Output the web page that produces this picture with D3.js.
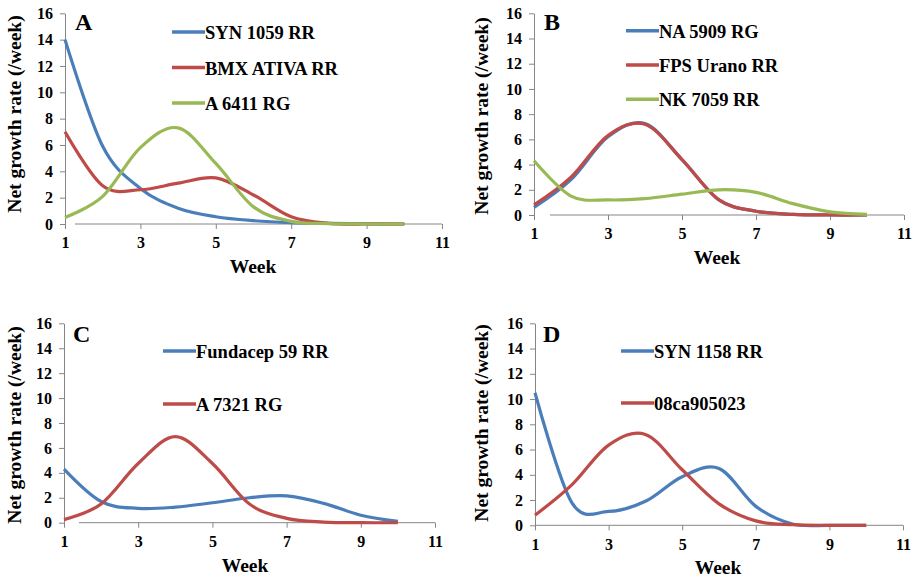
<!DOCTYPE html>
<html>
<head>
<meta charset="utf-8">
<script src="https://cdn.jsdelivr.net/npm/d3@7/dist/d3.min.js"></script>
<style>
    body { margin: 0; background: #fff; }
</style>
</head>
<body>
<div id="chart"></div>
<script>
// Data
const weeks = [1, 2, 3, 4, 5, 6, 7, 8, 9, 10];
const xTicks = [1, 3, 5, 7, 9, 11];
const yTicks = [0, 2, 4, 6, 8, 10, 12, 14, 16];
const panelLetters = ["A", "B", "C", "D"];

const namesA = ["SYN 1059 RR", "BMX ATIVA RR", "A 6411 RG"];
const syn1059 = [14, 5.9, 2.7, 1.2, 0.55, 0.25, 0.1, 0.05, 0.02, 0];
const bmxAtiva = [7, 2.9, 2.6, 3.1, 3.5, 2.2, 0.55, 0.05, 0, 0];
const a6411 = [0.5, 2.1, 5.8, 7.3, 4.6, 1.3, 0.2, 0.03, 0, 0];

const namesB = ["NA 5909 RG", "FPS Urano RR", "NK 7059 RR"];
const na5909 = [0.6, 2.8, 6.2, 7.25, 4.4, 1.2, 0.3, 0.05, 0, 0];
const fpsUrano = [0.8, 3.0, 6.3, 7.2, 4.4, 1.2, 0.3, 0.05, 0, 0];
const nk7059 = [4.3, 1.5, 1.2, 1.3, 1.65, 2.0, 1.8, 0.9, 0.25, 0.05];

const namesC = ["Fundacep 59 RR", "A 7321 RG"];
const fundacep59 = [4.3, 1.7, 1.15, 1.25, 1.6, 2.0, 2.15, 1.55, 0.6, 0.1];
const a7321 = [0.25, 1.5, 4.75, 6.9, 4.75, 1.5, 0.35, 0.05, 0, 0];

const namesD = ["SYN 1158 RR", "08ca905023"];
const syn1158 = [10.5, 1.8, 1.1, 1.9, 3.85, 4.5, 1.5, 0.1, 0, 0];
const ca905023 = [0.8, 3.2, 6.35, 7.2, 4.4, 1.7, 0.35, 0.05, 0, 0];

const seriesByPanel = [
    [syn1059, bmxAtiva, a6411],
    [na5909, fpsUrano, nk7059],
    [fundacep59, a7321],
    [syn1158, ca905023]
];
const namesByPanel = [namesA, namesB, namesC, namesD];

// Excel 2007 palette
const colors = ['#4a7ebb', '#be4b48', '#98b954'];
const axisColor = '#868686';
const serif = "'Liberation Serif', Tinos, 'Times New Roman', 'DejaVu Serif', serif";

// Layout per panel (pixels)
const layout = [
    { x0: 65, x1: 442, y0: 224, y1: 13.3, gap: 10, letter: [75, 30], leg: [172, 32, 35.5], titleX: 21, titleY: 114, weekX: 253 },
    { x0: 534, x1: 904, y0: 215, y1: 13.3, gap: 16, letter: [544, 30], leg: [626, 30.7, 34.3], titleX: 488, titleY: 116, weekX: 717 },
    { x0: 64, x1: 435, y0: 522.7, y1: 323.3, gap: 15, letter: [73, 342], leg: [163, 351, 53], titleX: 21, titleY: 425, weekX: 245 },
    { x0: 535, x1: 903, y0: 525.3, y1: 323.3, gap: 0, letter: [543, 342], leg: [621, 351, 52], titleX: 488, titleY: 423, weekX: 718 }
];

const svg = d3.select("#chart")
    .append("svg")
    .attr("width", 916)
    .attr("height", 580)
    .attr("font-family", serif)
    .attr("font-weight", "bold");

function drawPanel(i) {
    const L = layout[i];
    const x = d3.scaleLinear().domain([1, 11]).range([L.x0, L.x1]);
    const y = d3.scaleLinear().domain([0, 16]).range([L.y0, L.y1]);
    const g = svg.append("g").attr("class", "panel");

    // y axis
    const yAxis = g.append("g")
        .attr("transform", `translate(${L.x0},0)`)
        .call(d3.axisLeft(y).tickValues(yTicks).tickSize(5).tickSizeOuter(0).tickPadding(7))
        .attr("font-family", serif)
        .attr("font-size", 16);
    yAxis.selectAll("path, line").attr("stroke", axisColor);
    yAxis.selectAll("text").attr("fill", "#000");

    // x axis
    const xAxis = g.append("g")
        .attr("transform", `translate(0,${L.y0})`)
        .call(d3.axisBottom(x).tickValues(xTicks).tickSize(5).tickSizeOuter(0).tickPadding(8))
        .attr("font-family", serif)
        .attr("font-size", 16);
    xAxis.select(".domain").attr("d", `M${L.x0 + L.gap},0H${L.x1}`);
    xAxis.selectAll("path, line").attr("stroke", axisColor);
    xAxis.selectAll("text").attr("fill", "#000");

    // axis titles
    g.append("text")
        .attr("transform", `translate(${L.titleX},${L.titleY}) rotate(-90)`)
        .attr("text-anchor", "middle")
        .attr("font-size", 19.5)
        .text("Net growth rate (/week)");
    g.append("text")
        .attr("x", L.weekX)
        .attr("y", L.y0 + 49)
        .attr("text-anchor", "middle")
        .attr("font-size", 19.5)
        .text("Week");

    // panel letter
    g.append("text")
        .attr("x", L.letter[0])
        .attr("y", L.letter[1])
        .attr("font-size", 24)
        .text(panelLetters[i]);

    // smoothed lines
    const line = d3.line()
        .x((d, j) => x(weeks[j]))
        .y(d => y(d))
        .curve(d3.curveCardinal.tension(0));

    g.selectAll(".series")
        .data(seriesByPanel[i])
        .enter().append("path")
        .attr("class", "series")
        .attr("fill", "none")
        .attr("stroke", (d, j) => colors[j])
        .attr("stroke-width", 3.2)
        .attr("stroke-linejoin", "round")
        .attr("d", line);

    // legend
    const leg = g.selectAll(".legend")
        .data(namesByPanel[i])
        .enter().append("g")
        .attr("class", "legend")
        .attr("transform", (d, j) => `translate(${L.leg[0]},${L.leg[1] + j * L.leg[2]})`);
    leg.append("line")
        .attr("x1", 0).attr("x2", 33)
        .attr("stroke", (d, j) => colors[j])
        .attr("stroke-width", 3.5);
    leg.append("text")
        .attr("x", 33)
        .attr("y", 7)
        .attr("font-size", 18.5)
        .text(d => d);
}

panelLetters.forEach((d, i) => drawPanel(i));
</script>
</body>
</html>
